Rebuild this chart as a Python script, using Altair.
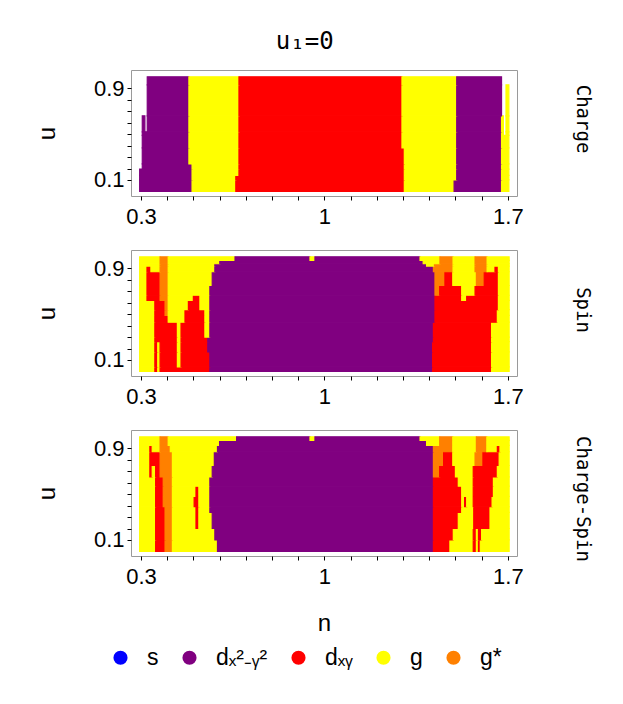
import altair as alt
import pandas as pd

# ---- phases / colours -------------------------------------------------
PHASES = ["s", "dₓ²₋ᵧ²", "dₓᵧ", "g", "g*"]
PHASE_COLORS = ["#0000ff", "#800080", "#ff0000", "#ffff00", "#ff8000"]
CODES = {"S": "s", "P": "dₓ²₋ᵧ²", "R": "dₓᵧ", "Y": "g", "O": "g*"}

# ---- axes -------------------------------------------------------------
N_TICKS = [0.3, 0.4, 0.5, 0.6, 0.7, 0.8, 0.9, 1.0, 1.1, 1.2, 1.3, 1.4, 1.5, 1.6, 1.7]
N_LABELED = ["0.3", "1", "1.7"]
U_TICKS = [0.1, 0.2, 0.3, 0.4, 0.5, 0.6, 0.7, 0.8, 0.9]
U_LABELED = ["0.1", "0.9"]
PANEL_NAMES = ["Charge", "Spin", "Charge-Spin"]
TITLE = "u₁=0"

# ---- phase diagrams: u bands (bottom -> top) and, per band, "start code end code end ..."
charge_u_edges = [0.0, 0.10, 0.14, 0.195, 0.24, 0.38, 0.49, 0.52, 0.66, 0.93, 1.0]
charge_rows = [
    "0.295 P 0.495 Y 0.662 R 1.305 Y 1.495 P 1.676 Y 1.704",
    "0.295 P 0.495 Y 0.662 R 1.305 Y 1.505 P 1.676 Y 1.704",
    "0.295 P 0.495 Y 0.674 R 1.305 Y 1.505 P 1.676 Y 1.704",
    "0.305 P 0.495 Y 0.674 R 1.305 Y 1.505 P 1.676 Y 1.704",
    "0.305 P 0.483 Y 0.674 R 1.305 Y 1.505 P 1.676 Y 1.704",
    "0.305 P 0.483 Y 0.674 R 1.296 Y 1.505 P 1.676 Y 1.704",
    "0.305 P 0.483 Y 0.674 R 1.296 Y 1.505 P 1.676 Y 1.683 - 1.693 Y 1.704",
    "0.305 P 0.315 - 0.324 P 0.483 Y 0.674 R 1.296 Y 1.505 P 1.676 Y 1.683 - 1.693 Y 1.704",
    "0.324 P 0.483 Y 0.674 R 1.296 Y 1.505 P 1.676 - 1.693 Y 1.704",
    "0.324 P 0.483 Y 0.674 R 1.296 Y 1.505 P 1.676",
]

spin_u_edges = [0.0, 0.04, 0.17, 0.26, 0.30, 0.43, 0.49, 0.54, 0.62, 0.665, 0.75, 0.87, 0.92, 0.94, 0.97, 1.0]
spin_rows = [
    "0.295 Y 0.353 R 0.364 Y 0.373 R 0.563 P 1.413 R 1.638 Y 1.705",
    "0.295 Y 0.353 R 0.364 Y 0.373 R 0.439 Y 0.453 R 0.563 P 1.413 R 1.638 Y 1.705",
    "0.295 Y 0.353 R 0.364 Y 0.373 R 0.439 Y 0.453 R 0.555 P 1.413 R 1.638 Y 1.705",
    "0.295 Y 0.353 R 0.439 Y 0.453 R 0.555 P 1.416 R 1.638 Y 1.705",
    "0.295 Y 0.353 R 0.439 Y 0.453 R 0.544 Y 0.563 P 1.416 R 1.638 Y 1.705",
    "0.295 Y 0.353 R 0.404 Y 0.468 R 0.544 Y 0.563 P 1.422 R 1.660 Y 1.705",
    "0.295 Y 0.353 R 0.392 O 0.404 Y 0.468 R 0.544 Y 0.563 P 1.422 R 1.660 Y 1.705",
    "0.295 Y 0.353 R 0.392 O 0.404 Y 0.481 R 0.525 Y 0.563 P 1.422 R 1.664 Y 1.705",
    "0.295 Y 0.323 R 0.373 O 0.404 Y 0.500 R 0.525 Y 0.563 P 1.422 R 1.524 Y 1.543 R 1.664 Y 1.705",
    "0.295 Y 0.323 R 0.373 O 0.404 Y 0.563 P 1.422 O 1.440 R 1.524 Y 1.575 R 1.664 Y 1.705",
    "0.295 Y 0.323 R 0.373 O 0.404 Y 0.572 P 1.422 O 1.460 R 1.490 Y 1.580 O 1.610 R 1.664 Y 1.705",
    "0.295 Y 0.323 R 0.338 Y 0.373 O 0.404 Y 0.582 P 1.416 O 1.491 Y 1.575 O 1.621 Y 1.651 R 1.664 Y 1.705",
    "0.295 Y 0.373 O 0.404 Y 0.582 P 1.390 Y 1.420 O 1.491 Y 1.575 O 1.621 Y 1.705",
    "0.295 Y 0.373 O 0.404 Y 0.601 P 1.377 Y 1.441 O 1.491 Y 1.575 O 1.621 Y 1.705",
    "0.295 Y 0.373 O 0.404 Y 0.659 P 0.945 Y 0.964 P 1.365 Y 1.441 O 1.491 Y 1.575 O 1.621 Y 1.705",
]

cs_u_edges = [0.0, 0.10, 0.20, 0.34, 0.39, 0.48, 0.57, 0.65, 0.75, 0.87, 0.925, 0.97, 1.0]
cs_rows = [
    "0.295 Y 0.356 R 0.392 O 0.420 Y 0.592 P 1.416 R 1.479 Y 1.568 R 1.580 Y 1.588 R 1.595 Y 1.705",
    "0.295 Y 0.356 R 0.392 O 0.420 Y 0.582 P 1.416 R 1.492 Y 1.568 R 1.580 Y 1.588 R 1.600 Y 1.705",
    "0.295 Y 0.356 R 0.392 O 0.420 Y 0.510 R 0.521 Y 0.572 P 1.416 R 1.511 Y 1.570 R 1.632 Y 1.705",
    "0.295 Y 0.356 R 0.392 O 0.420 Y 0.510 R 0.521 Y 0.563 P 1.416 R 1.524 Y 1.570 R 1.632 Y 1.705",
    "0.295 Y 0.356 R 0.385 O 0.420 Y 0.503 R 0.521 Y 0.563 P 1.416 R 1.524 Y 1.535 R 1.543 Y 1.568 R 1.640 Y 1.705",
    "0.295 Y 0.356 R 0.385 O 0.420 Y 0.510 R 0.521 Y 0.563 P 1.416 R 1.524 Y 1.568 R 1.645 Y 1.705",
    "0.295 Y 0.356 R 0.385 O 0.420 Y 0.563 P 1.416 R 1.511 Y 1.568 R 1.645 Y 1.705",
    "0.295 Y 0.334 R 0.343 Y 0.356 R 0.373 O 0.420 Y 0.572 P 1.416 O 1.440 R 1.500 Y 1.568 R 1.660 Y 1.705",
    "0.295 Y 0.334 R 0.373 O 0.420 Y 0.580 P 1.416 O 1.455 R 1.490 Y 1.575 O 1.605 R 1.667 Y 1.705",
    "0.295 Y 0.334 R 0.343 Y 0.373 O 0.412 Y 0.592 P 1.416 O 1.490 Y 1.580 O 1.620 Y 1.660 R 1.670 Y 1.705",
    "0.295 Y 0.373 O 0.404 Y 0.600 P 1.390 Y 1.440 O 1.490 Y 1.580 O 1.620 Y 1.705",
    "0.295 Y 0.373 O 0.404 Y 0.665 P 0.945 Y 0.964 P 1.365 Y 1.440 O 1.490 Y 1.580 O 1.620 Y 1.705",
]


def build(edges, rows):
    recs = []
    for i, row in enumerate(rows):
        tok = row.split()
        start = float(tok[0])
        for code, end in zip(tok[1::2], tok[2::2]):
            end = float(end)
            if code != "-":
                recs.append(dict(u0=edges[i], u1=edges[i + 1], n0=start, n1=end,
                                 phase=CODES[code]))
            start = end
    return pd.DataFrame(recs)


panels = [build(charge_u_edges, charge_rows),
          build(spin_u_edges, spin_rows),
          build(cs_u_edges, cs_rows)]

W, H = 386, 126
GAP = 54
LEFT, TOP = 131, 70
LABEL_SHIFT = [-14, -3, 6]
xscale = alt.Scale(domain=[0.262, 1.735], nice=False, zero=False)
yscale = alt.Scale(domain=[-0.04, 1.06], nice=False, zero=False)
cscale = alt.Scale(domain=PHASES, range=PHASE_COLORS)

n_expr = ("abs(datum.value-0.3)<0.001 ? '0.3' : abs(datum.value-1)<0.001 ? '1' : "
          "abs(datum.value-1.7)<0.001 ? '1.7' : ''")
u_expr = "abs(datum.value-0.1)<0.001 ? '0.1' : abs(datum.value-0.9)<0.001 ? '0.9' : ''"


def make_panel(df, name, last, shift):
    xaxis = alt.Axis(values=N_TICKS, labelExpr=n_expr, labelOverlap=False,
                     labelFlush=False, labelPadding=6,
                     title="n" if last else None, titlePadding=24)
    yaxis = alt.Axis(values=U_TICKS, labelExpr=u_expr, labelOverlap=False,
                     labelFlush=False, labelPadding=3, title="u", titlePadding=34)
    rects = alt.Chart(df).mark_rect(strokeWidth=1.2, strokeOpacity=1, opacity=1).encode(
        x=alt.X("n0:Q", scale=xscale, axis=xaxis),
        x2="n1:Q",
        y=alt.Y("u0:Q", scale=yscale, axis=yaxis),
        y2="u1:Q",
        color=alt.Color("phase:N", scale=cscale,
                        legend=alt.Legend(title=None, orient="none", direction="horizontal",
                                          legendX=-22, legendY=576,
                                          symbolType="circle", symbolSize=200,
                                          symbolStrokeWidth=0, labelFont="Liberation Sans",
                                          labelFontSize=23, labelOffset=15,
                                          columnPadding=19, labelColor="black")),
        stroke=alt.Stroke("phase:N", scale=cscale, legend=None),
    )
    label = alt.Chart(pd.DataFrame({"t": [name]})).mark_text(
        angle=90, font="DejaVu Sans Mono", fontSize=19, color="black",
        align="center", baseline="middle",
    ).encode(text="t:N", x=alt.value(W + 66), y=alt.value(H / 2 + shift))
    return alt.layer(rects, label).properties(width=W, height=H)


charts = [make_panel(panels[i], PANEL_NAMES[i], i == 2, LABEL_SHIFT[i]) for i in range(3)]

chart = alt.vconcat(*charts, spacing=GAP, bounds="flush").properties(
    title=alt.TitleParams(TITLE, font="DejaVu Sans Mono", fontSize=24, fontWeight="normal",
                          anchor="middle", dx=-9, offset=16, color="black"),
    autosize=alt.AutoSizeParams(type="none"),
    padding={"left": LEFT, "top": TOP, "right": 623 - LEFT - W, "bottom": 704 - TOP},
).configure_axis(
    labelFont="Liberation Sans", labelFontSize=22, labelColor="black",
    titleFont="Liberation Sans", titleFontSize=24, titleFontWeight="normal", titleColor="black",
    tickColor="black", tickSize=4, domain=False, grid=False,
).configure_view(stroke="#9a9a9a", strokeWidth=1)

chart.save("out.html", embed_options={"renderer": "svg", "actions": False})
